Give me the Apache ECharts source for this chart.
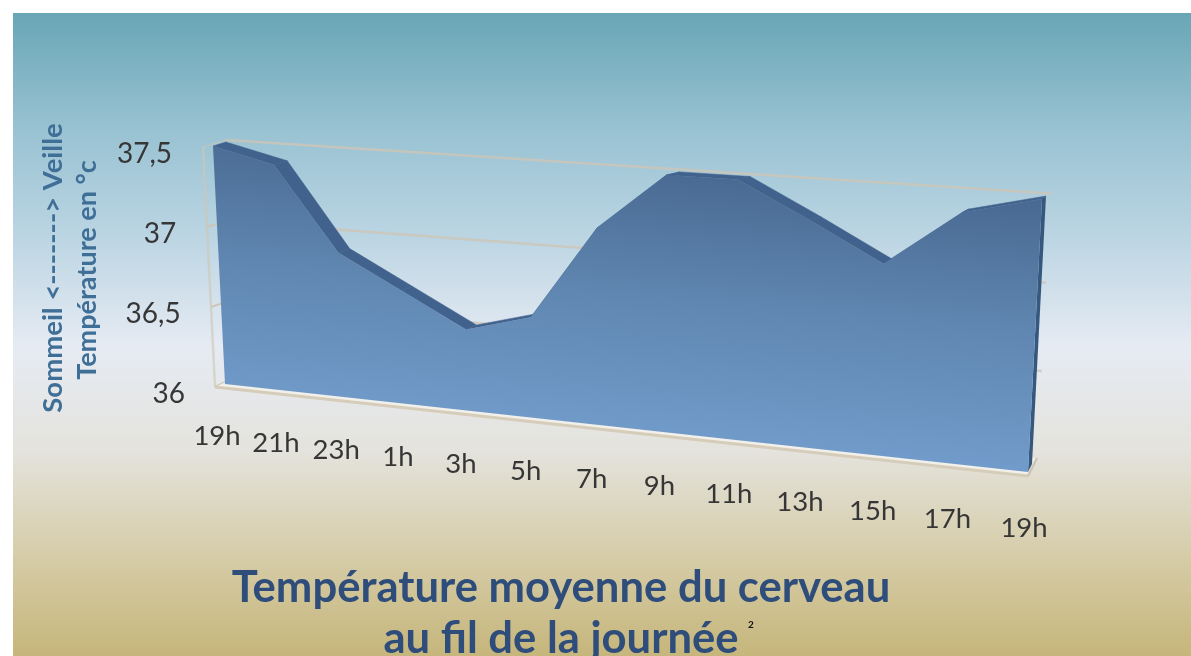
<!DOCTYPE html>
<html lang="fr">
<head>
<meta charset="utf-8">
<title>Température moyenne du cerveau</title>
<style>
html,body{margin:0;padding:0;background:#fff;}
#chart{width:1191px;height:656px;}
</style>
<script src="https://cdn.jsdelivr.net/npm/echarts@6/dist/echarts.min.js"></script>
</head>
<body>
<div id="chart"></div>
<script>
// Heures de la journée et température moyenne (°C)
const hours = ['19h','21h','23h','1h','3h','5h','7h','9h','11h','13h','15h','17h','19h'];
const temps = [37.5,37.41,36.9,36.7,36.5,36.61,37.17,37.5,37.5,37.3,37.09,37.4,37.5];
const yTicks = [36,36.5,37,37.5];
const yTickLabels = ['36','36,5','37','37,5'];

// Perspective layout: each plane is a quad [top-left, top-right, bottom-right, bottom-left]
const FRONT = [[213,146],[1042,199],[1028,472],[225,384]];
const DEPTH = [[226,142],[1046,196],[1032,464],[229,381]];
const WALL  = [[226,140],[1051,193.5],[1037,458],[228,381]];
const FLOOR_FRONT = [[215,387],[1028,476]];

const FONT = 'Lato, "Open Sans", sans-serif';

// Projective map from the unit square onto a quad
function homography(q){
  const [[x0,y0],[x1,y1],[x2,y2],[x3,y3]] = q;
  const dx1=x1-x2, dx2=x3-x2, sx=x0-x1+x2-x3;
  const dy1=y1-y2, dy2=y3-y2, sy=y0-y1+y2-y3;
  const den=dx1*dy2-dx2*dy1;
  const g=(sx*dy2-dx2*sy)/den, h=(dx1*sy-sx*dy1)/den;
  const a=x1-x0+g*x1, b=x3-x0+h*x3, d=y1-y0+g*y1, e=y3-y0+h*y3;
  return (u,v)=>{const w=g*u+h*v+1;return [(a*u+b*v+x0)/w,(d*u+e*v+y0)/w];};
}
const toFront = homography(FRONT), toDepth = homography(DEPTH), toWall = homography(WALL);

// Normalised position of a data point inside the cartesian grid
function unit(params,api,i,val){
  const p = api.coord([i,val]), c = params.coordSys;
  return [(p[0]-c.x)/c.width,(p[1]-c.y)/c.height];
}

const LINE = '#cdc6b6';

function renderWalls(params,api){
  const i = params.dataIndex, val = api.value(0);
  const [,v] = unit(params,api,0,val);
  const children = [];
  const left = toWall(0,v), right = toWall(1,v);
  const sideEnd = [203+12*v,147+240*v];
  // back-wall gridline and the stub on the side wall
  if(val>36){
    children.push({type:'line',shape:{x1:left[0],y1:left[1],x2:right[0],y2:right[1]},
      style:{stroke:LINE,lineWidth:2.5,opacity:0.8}});
  }
  children.push({type:'line',shape:{x1:sideEnd[0],y1:sideEnd[1],x2:left[0],y2:left[1]},
    style:{stroke:LINE,lineWidth:2,opacity:val===37.5?0.45:1}});
  if(i===0){
    // floor slab and side-wall edge
    const w0=toWall(0,1), w1=toWall(1,1);
    children.push({type:'polygon',shape:{points:[FLOOR_FRONT[0],FLOOR_FRONT[1],w1,w0]},
      style:{fill:'#f2f0ea'}});
    children.push({type:'line',shape:{x1:FLOOR_FRONT[0][0],y1:FLOOR_FRONT[0][1],x2:FLOOR_FRONT[1][0],y2:FLOOR_FRONT[1][1]},
      style:{stroke:'#d6ccba',lineWidth:3}});
    children.push({type:'line',shape:{x1:203,y1:147,x2:215,y2:387},
      style:{stroke:LINE,lineWidth:2.5,opacity:0.6}});
    children.push({type:'line',shape:{x1:FLOOR_FRONT[1][0],y1:FLOOR_FRONT[1][1],x2:w1[0],y2:w1[1]},
      style:{stroke:LINE,lineWidth:2.5}});
  }
  return {type:'group',children};
}

function renderArea(params,api){
  if(params.dataIndex!==0) return null;
  const front=[], back=[];
  temps.forEach((t,i)=>{
    const [u,v]=unit(params,api,i,t);
    front.push(toFront(u,v)); back.push(toDepth(u,v));
  });
  const children=[];
  // top surface seen over the falling stretches
  for(let i=0;i<front.length-1;i++){
    children.push({type:'polygon',shape:{points:[front[i],front[i+1],back[i+1],back[i]]},
      style:{fill:'#41628c',stroke:'#41628c',lineWidth:0.5}});
  }
  // right-hand end face
  const n=front.length-1;
  const fBase=toFront(1,1), bBase=toDepth(1,1);
  children.push({type:'polygon',shape:{points:[front[n],back[n],bBase,fBase]},style:{fill:'#36587f'}});
  // front face
  const pts=front.concat([fBase,toFront(0,1)]);
  children.push({type:'polygon',shape:{points:pts},
    style:{fill:{type:'linear',global:true,x:632,y:170,x2:608,y2:440,
      colorStops:[{offset:0,color:'#496a93'},{offset:0.45,color:'#5f86b0'},{offset:1,color:'#729ccb'}]}}});
  return {type:'group',children};
}

function renderHourLabels(params,api){
  const i=params.dataIndex;
  const [u]=unit(params,api,i,36);
  const p=toFront(u,1);
  return {type:'text',style:{text:hours[i],
    x:p[0]-8+4*u, y:p[1]+52+4*u, align:'center',verticalAlign:'middle',
    font:'27.5px '+FONT,fill:'#363636'}};
}

function renderValueLabels(params,api){
  const i=params.dataIndex, val=api.value(0);
  const [,v]=unit(params,api,0,val);
  return {type:'text',style:{text:yTickLabels[i],
    x:172+13*v, y:153.5+240*v, align:'right',verticalAlign:'middle',
    font:'28px '+FONT,fill:'#363636'}};
}

const chart = echarts.init(document.getElementById('chart'),null,{renderer:'canvas'});
chart.setOption({
  animation:false,
  backgroundColor:'#ffffff',
  title:{
    text:'Température moyenne du cerveau\nau fil de la journée',
    left:556,top:557,textAlign:'center',
    textStyle:{fontFamily:FONT,fontSize:43.6,fontWeight:'bold',color:'#2f4d7b',lineHeight:51}
  },
  grid:{left:213,top:146,width:830,height:240,containLabel:false},
  xAxis:{type:'category',data:hours,boundaryGap:false,show:false},
  yAxis:{type:'value',min:36,max:37.5,interval:0.5,show:false},
  graphic:[
    {type:'rect',z:-10,shape:{x:13,y:13,width:1178,height:643},
      style:{fill:{type:'linear',x:0,y:0,x2:0,y2:1,colorStops:[
        {offset:0,color:'#69a6b5'},
        {offset:0.18,color:'#98c2d2'},
        {offset:0.35,color:'#bcd5e3'},
        {offset:0.52,color:'#e6ebf3'},
        {offset:0.68,color:'#e4e3dd'},
        {offset:0.86,color:'#d4caa3'},
        {offset:1,color:'#c6b67b'}]}}},
    {type:'text',z:5,rotation:Math.PI/2,x:53,y:268,
      style:{text:'Sommeil <-------> Veille',align:'center',verticalAlign:'middle',
        font:'bold 27.5px '+FONT,fill:'#3f6f97'}},
    {type:'text',z:5,rotation:Math.PI/2,x:87,y:270,
      style:{text:'Température en °c',align:'center',verticalAlign:'middle',
        font:'bold 27px '+FONT,fill:'#3f6f97'}},
    {type:'text',z:5,x:751,y:625,
      style:{text:'2',align:'center',verticalAlign:'middle',font:'bold 10px '+FONT,fill:'#111'}}
  ],
  series:[
    {type:'custom',name:'Grille',coordinateSystem:'cartesian2d',z:2,silent:true,
      data:yTicks.map(t=>[t]),encode:{y:0},renderItem:renderWalls},
    {type:'custom',name:'Température',coordinateSystem:'cartesian2d',z:3,silent:true,
      data:temps.map((t,i)=>[i,t]),encode:{x:0,y:1},renderItem:renderArea},
    {type:'custom',name:'Heures',coordinateSystem:'cartesian2d',z:4,silent:true,
      data:hours.map((h,i)=>[i]),encode:{x:0},renderItem:renderHourLabels},
    {type:'custom',name:'Échelle',coordinateSystem:'cartesian2d',z:4,silent:true,
      data:yTicks.map(t=>[t]),encode:{y:0},renderItem:renderValueLabels}
  ]
});
</script>
</body>
</html>
